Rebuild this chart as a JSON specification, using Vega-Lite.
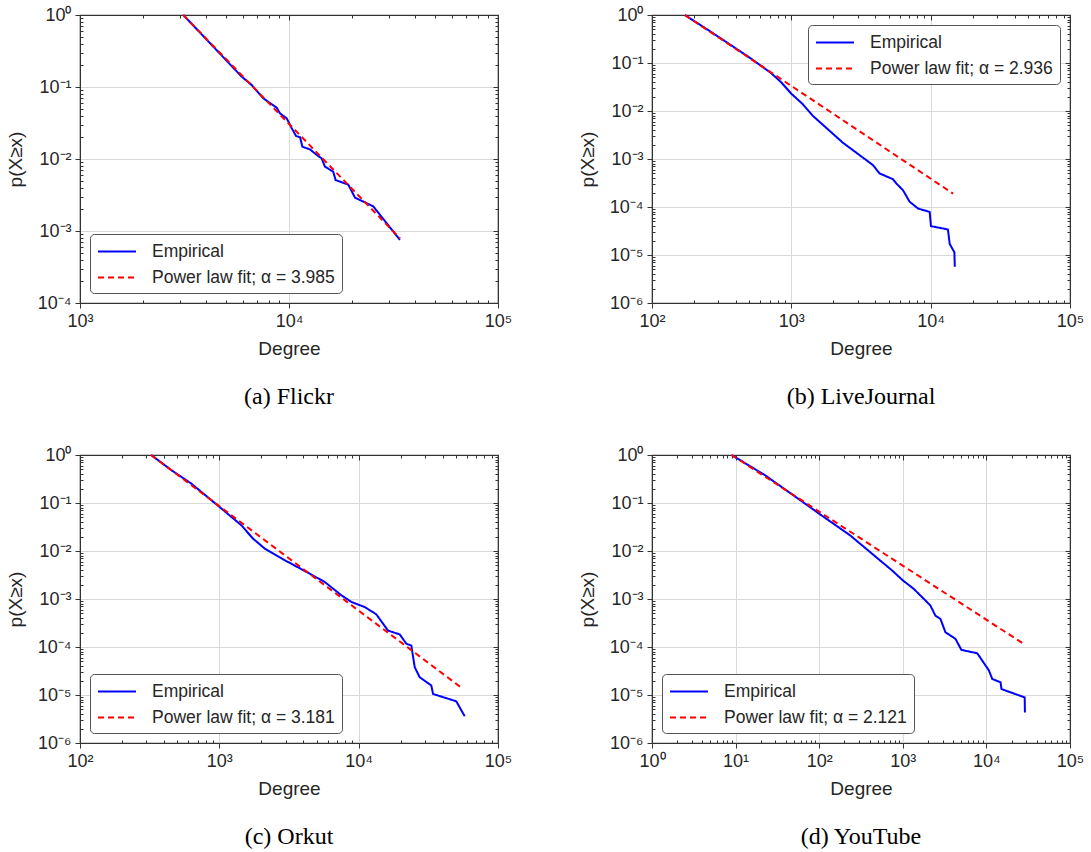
{
"$schema": "https://vega.github.io/schema/vega-lite/v6.json",
"background": "white",
"padding": {"left": 5, "top": 5, "right": 5, "bottom": 5},
"datasets": {"d": [
{"panel":"a","series":"Empirical","degree":3120,"p":1.0},
{"panel":"a","series":"Empirical","degree":4345,"p":0.363},
{"panel":"a","series":"Empirical","degree":5940,"p":0.139},
{"panel":"a","series":"Empirical","degree":6630,"p":0.1066},
{"panel":"a","series":"Empirical","degree":7530,"p":0.0697},
{"panel":"a","series":"Empirical","degree":8730,"p":0.0516},
{"panel":"a","series":"Empirical","degree":9060,"p":0.043},
{"panel":"a","series":"Empirical","degree":9750,"p":0.0367},
{"panel":"a","series":"Empirical","degree":10310,"p":0.0267},
{"panel":"a","series":"Empirical","degree":10800,"p":0.0209},
{"panel":"a","series":"Empirical","degree":11300,"p":0.020},
{"panel":"a","series":"Empirical","degree":11590,"p":0.0148},
{"panel":"a","series":"Empirical","degree":12600,"p":0.0136},
{"panel":"a","series":"Empirical","degree":13570,"p":0.0114},
{"panel":"a","series":"Empirical","degree":14330,"p":0.0102},
{"panel":"a","series":"Empirical","degree":14860,"p":0.00782},
{"panel":"a","series":"Empirical","degree":16280,"p":0.00667},
{"panel":"a","series":"Empirical","degree":16710,"p":0.0051},
{"panel":"a","series":"Empirical","degree":19220,"p":0.0044},
{"panel":"a","series":"Empirical","degree":20700,"p":0.0029},
{"panel":"a","series":"Empirical","degree":25300,"p":0.0022},
{"panel":"a","series":"Empirical","degree":33960,"p":0.00075},
{"panel":"a","series":"Power law fit; α = 3.985","degree":3120,"p":1.0},
{"panel":"a","series":"Power law fit; α = 3.985","degree":34000,"p":0.00079},
{"panel":"b","series":"Empirical","degree":172,"p":1.0},
{"panel":"b","series":"Empirical","degree":257,"p":0.472},
{"panel":"b","series":"Empirical","degree":358,"p":0.249},
{"panel":"b","series":"Empirical","degree":499,"p":0.131},
{"panel":"b","series":"Empirical","degree":714,"p":0.062},
{"panel":"b","series":"Empirical","degree":843,"p":0.040},
{"panel":"b","series":"Empirical","degree":1005,"p":0.0226},
{"panel":"b","series":"Empirical","degree":1205,"p":0.014},
{"panel":"b","series":"Empirical","degree":1422,"p":0.008},
{"panel":"b","series":"Empirical","degree":1875,"p":0.0039},
{"panel":"b","series":"Empirical","degree":2337,"p":0.0022},
{"panel":"b","series":"Empirical","degree":3080,"p":0.00121},
{"panel":"b","series":"Empirical","degree":3846,"p":0.00075},
{"panel":"b","series":"Empirical","degree":4300,"p":0.0005},
{"panel":"b","series":"Empirical","degree":5360,"p":0.00038},
{"panel":"b","series":"Empirical","degree":5665,"p":0.00031},
{"panel":"b","series":"Empirical","degree":6320,"p":0.000225},
{"panel":"b","series":"Empirical","degree":7060,"p":0.000129},
{"panel":"b","series":"Empirical","degree":8110,"p":0.000093},
{"panel":"b","series":"Empirical","degree":9840,"p":0.000079},
{"panel":"b","series":"Empirical","degree":10050,"p":0.00004},
{"panel":"b","series":"Empirical","degree":13300,"p":0.000034},
{"panel":"b","series":"Empirical","degree":13700,"p":0.000017},
{"panel":"b","series":"Empirical","degree":14800,"p":0.0000114},
{"panel":"b","series":"Empirical","degree":14900,"p":0.0000057},
{"panel":"b","series":"Power law fit; α = 2.936","degree":172,"p":1.0},
{"panel":"b","series":"Power law fit; α = 2.936","degree":14500,"p":0.00019},
{"panel":"c","series":"Empirical","degree":324,"p":1.0},
{"panel":"c","series":"Empirical","degree":451,"p":0.486},
{"panel":"c","series":"Empirical","degree":627,"p":0.256},
{"panel":"c","series":"Empirical","degree":1002,"p":0.083},
{"panel":"c","series":"Empirical","degree":1435,"p":0.0346},
{"panel":"c","series":"Empirical","degree":1742,"p":0.0182},
{"panel":"c","series":"Empirical","degree":2113,"p":0.0113},
{"panel":"c","series":"Empirical","degree":2942,"p":0.00645},
{"panel":"c","series":"Empirical","degree":4090,"p":0.00385},
{"panel":"c","series":"Empirical","degree":5700,"p":0.00227},
{"panel":"c","series":"Empirical","degree":7500,"p":0.0012},
{"panel":"c","series":"Empirical","degree":8850,"p":0.00087},
{"panel":"c","series":"Empirical","degree":11040,"p":0.00068},
{"panel":"c","series":"Empirical","degree":13380,"p":0.00048},
{"panel":"c","series":"Empirical","degree":14960,"p":0.000306},
{"panel":"c","series":"Empirical","degree":16230,"p":0.00022},
{"panel":"c","series":"Empirical","degree":19710,"p":0.000183},
{"panel":"c","series":"Empirical","degree":21990,"p":0.000117},
{"panel":"c","series":"Empirical","degree":23880,"p":0.000107},
{"panel":"c","series":"Empirical","degree":25250,"p":0.000038},
{"panel":"c","series":"Empirical","degree":27400,"p":0.0000235},
{"panel":"c","series":"Empirical","degree":33200,"p":0.0000158},
{"panel":"c","series":"Empirical","degree":34200,"p":0.0000105},
{"panel":"c","series":"Empirical","degree":50200,"p":0.0000074},
{"panel":"c","series":"Empirical","degree":57700,"p":0.0000036},
{"panel":"c","series":"Power law fit; α = 3.181","degree":324,"p":1.0},
{"panel":"c","series":"Power law fit; α = 3.181","degree":55000,"p":0.000014},
{"panel":"d","series":"Empirical","degree":8.96,"p":1.0},
{"panel":"d","series":"Empirical","degree":22.5,"p":0.379},
{"panel":"d","series":"Empirical","degree":67.8,"p":0.097},
{"panel":"d","series":"Empirical","degree":99.7,"p":0.06},
{"panel":"d","series":"Empirical","degree":235,"p":0.0211},
{"panel":"d","series":"Empirical","degree":428,"p":0.0088},
{"panel":"d","series":"Empirical","degree":743,"p":0.00394},
{"panel":"d","series":"Empirical","degree":1005,"p":0.00243},
{"panel":"d","series":"Empirical","degree":1350,"p":0.00163},
{"panel":"d","series":"Empirical","degree":1780,"p":0.00101},
{"panel":"d","series":"Empirical","degree":2140,"p":0.00073},
{"panel":"d","series":"Empirical","degree":2455,"p":0.00045},
{"panel":"d","series":"Empirical","degree":2820,"p":0.000385},
{"panel":"d","series":"Empirical","degree":3235,"p":0.000203},
{"panel":"d","series":"Empirical","degree":4265,"p":0.000148},
{"panel":"d","series":"Empirical","degree":5020,"p":0.000087},
{"panel":"d","series":"Empirical","degree":7770,"p":0.000074},
{"panel":"d","series":"Empirical","degree":8920,"p":0.000052},
{"panel":"d","series":"Empirical","degree":10720,"p":0.0000325},
{"panel":"d","series":"Empirical","degree":11740,"p":0.0000216},
{"panel":"d","series":"Empirical","degree":14770,"p":0.0000184},
{"panel":"d","series":"Empirical","degree":15150,"p":0.0000133},
{"panel":"d","series":"Empirical","degree":28700,"p":0.0000089},
{"panel":"d","series":"Empirical","degree":28900,"p":0.0000043},
{"panel":"d","series":"Power law fit; α = 2.121","degree":8.96,"p":1.0},
{"panel":"d","series":"Power law fit; α = 2.121","degree":28900,"p":0.000112}
]},
"data": {"name": "d"},
"columns": 2,
"spacing": {"row": 35, "column": 64},
"resolve": {
  "scale": {"x": "independent", "y": "independent", "color": "independent", "strokeDash": "independent"},
  "legend": {"color": "independent", "strokeDash": "independent"}
},
"concat": [
{
 "width": 418, "height": 288,
 "title": "(a)  Flickr",
 "transform": [{"filter": "datum.panel == 'a'"}],
 "layer": [
  {"mark": {"type": "line", "strokeWidth": 2},
   "encoding": {
    "x": {"field": "degree", "type": "quantitative", "scale": {"type": "log", "domain": [1000, 100000], "nice": false},
      "axis": {"orient": "bottom", "title": "Degree", "values": [1000,2000,3000,4000,5000,6000,7000,8000,9000,10000,20000,30000,40000,50000,60000,70000,80000,90000,100000],
        "labelExpr": "abs(log(datum.value)/LN10 - round(log(datum.value)/LN10)) < 0.001 ? '10' + replace(replace(replace(replace(replace(replace(replace(replace(''+round(log(datum.value)/LN10), '-', '⁻'), '0', '⁰'), '1', '¹'), '2', '²'), '3', '³'), '4', '⁴'), '5', '⁵'), '6', '⁶') : ''",
        "gridOpacity": {"condition": {"test": "abs(log(datum.value)/LN10 - round(log(datum.value)/LN10)) < 0.001", "value": 1}, "value": 0},
        "tickSize": {"condition": {"test": "abs(log(datum.value)/LN10 - round(log(datum.value)/LN10)) < 0.001", "value": 5}, "value": -3}}},
    "y": {"field": "p", "type": "quantitative", "scale": {"type": "log", "domain": [0.0001, 1], "nice": false},
      "axis": {"orient": "left", "title": "p(X≥x)", "values": [0.0001,0.0002,0.0003,0.0004,0.0005,0.0006,0.0007,0.0008,0.0009,0.001,0.002,0.003,0.004,0.005,0.006,0.007,0.008,0.009,0.01,0.02,0.03,0.04,0.05,0.06,0.07,0.08,0.09,0.1,0.2,0.3,0.4,0.5,0.6,0.7,0.8,0.9,1],
        "labelExpr": "abs(log(datum.value)/LN10 - round(log(datum.value)/LN10)) < 0.001 ? '10' + replace(replace(replace(replace(replace(replace(replace(replace(''+round(log(datum.value)/LN10), '-', '⁻'), '0', '⁰'), '1', '¹'), '2', '²'), '3', '³'), '4', '⁴'), '5', '⁵'), '6', '⁶') : ''",
        "gridOpacity": {"condition": {"test": "abs(log(datum.value)/LN10 - round(log(datum.value)/LN10)) < 0.001", "value": 1}, "value": 0},
        "tickSize": {"condition": {"test": "abs(log(datum.value)/LN10 - round(log(datum.value)/LN10)) < 0.001", "value": 5}, "value": -3}}},
    "color": {"field": "series", "type": "nominal", "scale": {"range": ["#0000ff", "#ff0000"]},
      "legend": {"title": null, "orient": "bottom-left", "symbolType": "M-1,0H3"}},
    "strokeDash": {"field": "series", "type": "nominal", "scale": {"range": [[1, 0], [6, 4]]},
      "legend": {"title": null, "orient": "bottom-left", "symbolType": "M-1,0H3"}}
   }},
  {"mark": {"type": "point", "opacity": 0},
   "encoding": {
    "x": {"field": "degree", "type": "quantitative", "scale": {"type": "log", "domain": [1000, 100000], "nice": false},
      "axis": {"orient": "top", "title": null, "labels": false, "grid": false, "values": [1000,2000,3000,4000,5000,6000,7000,8000,9000,10000,20000,30000,40000,50000,60000,70000,80000,90000,100000],
        "tickSize": {"condition": {"test": "abs(log(datum.value)/LN10 - round(log(datum.value)/LN10)) < 0.001", "value": -5}, "value": -3}}},
    "y": {"field": "p", "type": "quantitative", "scale": {"type": "log", "domain": [0.0001, 1], "nice": false},
      "axis": {"orient": "right", "title": null, "labels": false, "grid": false, "values": [0.0001,0.0002,0.0003,0.0004,0.0005,0.0006,0.0007,0.0008,0.0009,0.001,0.002,0.003,0.004,0.005,0.006,0.007,0.008,0.009,0.01,0.02,0.03,0.04,0.05,0.06,0.07,0.08,0.09,0.1,0.2,0.3,0.4,0.5,0.6,0.7,0.8,0.9,1],
        "tickSize": {"condition": {"test": "abs(log(datum.value)/LN10 - round(log(datum.value)/LN10)) < 0.001", "value": -5}, "value": -3}}}
   }}
 ],
 "resolve": {"axis": {"x": "independent", "y": "independent"}}
},
{
 "width": 418, "height": 288,
 "title": "(b)  LiveJournal",
 "transform": [{"filter": "datum.panel == 'b'"}],
 "layer": [
  {"mark": {"type": "line", "strokeWidth": 2},
   "encoding": {
    "x": {"field": "degree", "type": "quantitative", "scale": {"type": "log", "domain": [100, 100000], "nice": false},
      "axis": {"orient": "bottom", "title": "Degree", "values": [100,200,300,400,500,600,700,800,900,1000,2000,3000,4000,5000,6000,7000,8000,9000,10000,20000,30000,40000,50000,60000,70000,80000,90000,100000],
        "labelExpr": "abs(log(datum.value)/LN10 - round(log(datum.value)/LN10)) < 0.001 ? '10' + replace(replace(replace(replace(replace(replace(replace(replace(''+round(log(datum.value)/LN10), '-', '⁻'), '0', '⁰'), '1', '¹'), '2', '²'), '3', '³'), '4', '⁴'), '5', '⁵'), '6', '⁶') : ''",
        "gridOpacity": {"condition": {"test": "abs(log(datum.value)/LN10 - round(log(datum.value)/LN10)) < 0.001", "value": 1}, "value": 0},
        "tickSize": {"condition": {"test": "abs(log(datum.value)/LN10 - round(log(datum.value)/LN10)) < 0.001", "value": 5}, "value": -3}}},
    "y": {"field": "p", "type": "quantitative", "scale": {"type": "log", "domain": [0.000001, 1], "nice": false},
      "axis": {"orient": "left", "title": "p(X≥x)", "values": [0.000001,0.000002,0.000003,0.000004,0.000005,0.000006,0.000007,0.000008,0.000009,0.00001,0.00002,0.00003,0.00004,0.00005,0.00006,0.00007,0.00008,0.00009,0.0001,0.0002,0.0003,0.0004,0.0005,0.0006,0.0007,0.0008,0.0009,0.001,0.002,0.003,0.004,0.005,0.006,0.007,0.008,0.009,0.01,0.02,0.03,0.04,0.05,0.06,0.07,0.08,0.09,0.1,0.2,0.3,0.4,0.5,0.6,0.7,0.8,0.9,1],
        "labelExpr": "abs(log(datum.value)/LN10 - round(log(datum.value)/LN10)) < 0.001 ? '10' + replace(replace(replace(replace(replace(replace(replace(replace(''+round(log(datum.value)/LN10), '-', '⁻'), '0', '⁰'), '1', '¹'), '2', '²'), '3', '³'), '4', '⁴'), '5', '⁵'), '6', '⁶') : ''",
        "gridOpacity": {"condition": {"test": "abs(log(datum.value)/LN10 - round(log(datum.value)/LN10)) < 0.001", "value": 1}, "value": 0},
        "tickSize": {"condition": {"test": "abs(log(datum.value)/LN10 - round(log(datum.value)/LN10)) < 0.001", "value": 5}, "value": -3}}},
    "color": {"field": "series", "type": "nominal", "scale": {"range": ["#0000ff", "#ff0000"]},
      "legend": {"title": null, "orient": "top-right", "symbolType": "M-1,0H3"}},
    "strokeDash": {"field": "series", "type": "nominal", "scale": {"range": [[1, 0], [6, 4]]},
      "legend": {"title": null, "orient": "top-right", "symbolType": "M-1,0H3"}}
   }},
  {"mark": {"type": "point", "opacity": 0},
   "encoding": {
    "x": {"field": "degree", "type": "quantitative", "scale": {"type": "log", "domain": [100, 100000], "nice": false},
      "axis": {"orient": "top", "title": null, "labels": false, "grid": false, "values": [100,200,300,400,500,600,700,800,900,1000,2000,3000,4000,5000,6000,7000,8000,9000,10000,20000,30000,40000,50000,60000,70000,80000,90000,100000],
        "tickSize": {"condition": {"test": "abs(log(datum.value)/LN10 - round(log(datum.value)/LN10)) < 0.001", "value": -5}, "value": -3}}},
    "y": {"field": "p", "type": "quantitative", "scale": {"type": "log", "domain": [0.000001, 1], "nice": false},
      "axis": {"orient": "right", "title": null, "labels": false, "grid": false, "values": [0.000001,0.000002,0.000003,0.000004,0.000005,0.000006,0.000007,0.000008,0.000009,0.00001,0.00002,0.00003,0.00004,0.00005,0.00006,0.00007,0.00008,0.00009,0.0001,0.0002,0.0003,0.0004,0.0005,0.0006,0.0007,0.0008,0.0009,0.001,0.002,0.003,0.004,0.005,0.006,0.007,0.008,0.009,0.01,0.02,0.03,0.04,0.05,0.06,0.07,0.08,0.09,0.1,0.2,0.3,0.4,0.5,0.6,0.7,0.8,0.9,1],
        "tickSize": {"condition": {"test": "abs(log(datum.value)/LN10 - round(log(datum.value)/LN10)) < 0.001", "value": -5}, "value": -3}}}
   }}
 ],
 "resolve": {"axis": {"x": "independent", "y": "independent"}}
},
{
 "width": 418, "height": 288,
 "title": "(c)  Orkut",
 "transform": [{"filter": "datum.panel == 'c'"}],
 "layer": [
  {"mark": {"type": "line", "strokeWidth": 2},
   "encoding": {
    "x": {"field": "degree", "type": "quantitative", "scale": {"type": "log", "domain": [100, 100000], "nice": false},
      "axis": {"orient": "bottom", "title": "Degree", "values": [100,200,300,400,500,600,700,800,900,1000,2000,3000,4000,5000,6000,7000,8000,9000,10000,20000,30000,40000,50000,60000,70000,80000,90000,100000],
        "labelExpr": "abs(log(datum.value)/LN10 - round(log(datum.value)/LN10)) < 0.001 ? '10' + replace(replace(replace(replace(replace(replace(replace(replace(''+round(log(datum.value)/LN10), '-', '⁻'), '0', '⁰'), '1', '¹'), '2', '²'), '3', '³'), '4', '⁴'), '5', '⁵'), '6', '⁶') : ''",
        "gridOpacity": {"condition": {"test": "abs(log(datum.value)/LN10 - round(log(datum.value)/LN10)) < 0.001", "value": 1}, "value": 0},
        "tickSize": {"condition": {"test": "abs(log(datum.value)/LN10 - round(log(datum.value)/LN10)) < 0.001", "value": 5}, "value": -3}}},
    "y": {"field": "p", "type": "quantitative", "scale": {"type": "log", "domain": [0.000001, 1], "nice": false},
      "axis": {"orient": "left", "title": "p(X≥x)", "values": [0.000001,0.000002,0.000003,0.000004,0.000005,0.000006,0.000007,0.000008,0.000009,0.00001,0.00002,0.00003,0.00004,0.00005,0.00006,0.00007,0.00008,0.00009,0.0001,0.0002,0.0003,0.0004,0.0005,0.0006,0.0007,0.0008,0.0009,0.001,0.002,0.003,0.004,0.005,0.006,0.007,0.008,0.009,0.01,0.02,0.03,0.04,0.05,0.06,0.07,0.08,0.09,0.1,0.2,0.3,0.4,0.5,0.6,0.7,0.8,0.9,1],
        "labelExpr": "abs(log(datum.value)/LN10 - round(log(datum.value)/LN10)) < 0.001 ? '10' + replace(replace(replace(replace(replace(replace(replace(replace(''+round(log(datum.value)/LN10), '-', '⁻'), '0', '⁰'), '1', '¹'), '2', '²'), '3', '³'), '4', '⁴'), '5', '⁵'), '6', '⁶') : ''",
        "gridOpacity": {"condition": {"test": "abs(log(datum.value)/LN10 - round(log(datum.value)/LN10)) < 0.001", "value": 1}, "value": 0},
        "tickSize": {"condition": {"test": "abs(log(datum.value)/LN10 - round(log(datum.value)/LN10)) < 0.001", "value": 5}, "value": -3}}},
    "color": {"field": "series", "type": "nominal", "scale": {"range": ["#0000ff", "#ff0000"]},
      "legend": {"title": null, "orient": "bottom-left", "symbolType": "M-1,0H3"}},
    "strokeDash": {"field": "series", "type": "nominal", "scale": {"range": [[1, 0], [6, 4]]},
      "legend": {"title": null, "orient": "bottom-left", "symbolType": "M-1,0H3"}}
   }},
  {"mark": {"type": "point", "opacity": 0},
   "encoding": {
    "x": {"field": "degree", "type": "quantitative", "scale": {"type": "log", "domain": [100, 100000], "nice": false},
      "axis": {"orient": "top", "title": null, "labels": false, "grid": false, "values": [100,200,300,400,500,600,700,800,900,1000,2000,3000,4000,5000,6000,7000,8000,9000,10000,20000,30000,40000,50000,60000,70000,80000,90000,100000],
        "tickSize": {"condition": {"test": "abs(log(datum.value)/LN10 - round(log(datum.value)/LN10)) < 0.001", "value": -5}, "value": -3}}},
    "y": {"field": "p", "type": "quantitative", "scale": {"type": "log", "domain": [0.000001, 1], "nice": false},
      "axis": {"orient": "right", "title": null, "labels": false, "grid": false, "values": [0.000001,0.000002,0.000003,0.000004,0.000005,0.000006,0.000007,0.000008,0.000009,0.00001,0.00002,0.00003,0.00004,0.00005,0.00006,0.00007,0.00008,0.00009,0.0001,0.0002,0.0003,0.0004,0.0005,0.0006,0.0007,0.0008,0.0009,0.001,0.002,0.003,0.004,0.005,0.006,0.007,0.008,0.009,0.01,0.02,0.03,0.04,0.05,0.06,0.07,0.08,0.09,0.1,0.2,0.3,0.4,0.5,0.6,0.7,0.8,0.9,1],
        "tickSize": {"condition": {"test": "abs(log(datum.value)/LN10 - round(log(datum.value)/LN10)) < 0.001", "value": -5}, "value": -3}}}
   }}
 ],
 "resolve": {"axis": {"x": "independent", "y": "independent"}}
},
{
 "width": 418, "height": 288,
 "title": "(d)  YouTube",
 "transform": [{"filter": "datum.panel == 'd'"}],
 "layer": [
  {"mark": {"type": "line", "strokeWidth": 2},
   "encoding": {
    "x": {"field": "degree", "type": "quantitative", "scale": {"type": "log", "domain": [1, 100000], "nice": false},
      "axis": {"orient": "bottom", "title": "Degree", "values": [1,2,3,4,5,6,7,8,9,10,20,30,40,50,60,70,80,90,100,200,300,400,500,600,700,800,900,1000,2000,3000,4000,5000,6000,7000,8000,9000,10000,20000,30000,40000,50000,60000,70000,80000,90000,100000],
        "labelExpr": "abs(log(datum.value)/LN10 - round(log(datum.value)/LN10)) < 0.001 ? '10' + replace(replace(replace(replace(replace(replace(replace(replace(''+round(log(datum.value)/LN10), '-', '⁻'), '0', '⁰'), '1', '¹'), '2', '²'), '3', '³'), '4', '⁴'), '5', '⁵'), '6', '⁶') : ''",
        "gridOpacity": {"condition": {"test": "abs(log(datum.value)/LN10 - round(log(datum.value)/LN10)) < 0.001", "value": 1}, "value": 0},
        "tickSize": {"condition": {"test": "abs(log(datum.value)/LN10 - round(log(datum.value)/LN10)) < 0.001", "value": 5}, "value": -3}}},
    "y": {"field": "p", "type": "quantitative", "scale": {"type": "log", "domain": [0.000001, 1], "nice": false},
      "axis": {"orient": "left", "title": "p(X≥x)", "values": [0.000001,0.000002,0.000003,0.000004,0.000005,0.000006,0.000007,0.000008,0.000009,0.00001,0.00002,0.00003,0.00004,0.00005,0.00006,0.00007,0.00008,0.00009,0.0001,0.0002,0.0003,0.0004,0.0005,0.0006,0.0007,0.0008,0.0009,0.001,0.002,0.003,0.004,0.005,0.006,0.007,0.008,0.009,0.01,0.02,0.03,0.04,0.05,0.06,0.07,0.08,0.09,0.1,0.2,0.3,0.4,0.5,0.6,0.7,0.8,0.9,1],
        "labelExpr": "abs(log(datum.value)/LN10 - round(log(datum.value)/LN10)) < 0.001 ? '10' + replace(replace(replace(replace(replace(replace(replace(replace(''+round(log(datum.value)/LN10), '-', '⁻'), '0', '⁰'), '1', '¹'), '2', '²'), '3', '³'), '4', '⁴'), '5', '⁵'), '6', '⁶') : ''",
        "gridOpacity": {"condition": {"test": "abs(log(datum.value)/LN10 - round(log(datum.value)/LN10)) < 0.001", "value": 1}, "value": 0},
        "tickSize": {"condition": {"test": "abs(log(datum.value)/LN10 - round(log(datum.value)/LN10)) < 0.001", "value": 5}, "value": -3}}},
    "color": {"field": "series", "type": "nominal", "scale": {"range": ["#0000ff", "#ff0000"]},
      "legend": {"title": null, "orient": "bottom-left", "symbolType": "M-1,0H3"}},
    "strokeDash": {"field": "series", "type": "nominal", "scale": {"range": [[1, 0], [6, 4]]},
      "legend": {"title": null, "orient": "bottom-left", "symbolType": "M-1,0H3"}}
   }},
  {"mark": {"type": "point", "opacity": 0},
   "encoding": {
    "x": {"field": "degree", "type": "quantitative", "scale": {"type": "log", "domain": [1, 100000], "nice": false},
      "axis": {"orient": "top", "title": null, "labels": false, "grid": false, "values": [1,2,3,4,5,6,7,8,9,10,20,30,40,50,60,70,80,90,100,200,300,400,500,600,700,800,900,1000,2000,3000,4000,5000,6000,7000,8000,9000,10000,20000,30000,40000,50000,60000,70000,80000,90000,100000],
        "tickSize": {"condition": {"test": "abs(log(datum.value)/LN10 - round(log(datum.value)/LN10)) < 0.001", "value": -5}, "value": -3}}},
    "y": {"field": "p", "type": "quantitative", "scale": {"type": "log", "domain": [0.000001, 1], "nice": false},
      "axis": {"orient": "right", "title": null, "labels": false, "grid": false, "values": [0.000001,0.000002,0.000003,0.000004,0.000005,0.000006,0.000007,0.000008,0.000009,0.00001,0.00002,0.00003,0.00004,0.00005,0.00006,0.00007,0.00008,0.00009,0.0001,0.0002,0.0003,0.0004,0.0005,0.0006,0.0007,0.0008,0.0009,0.001,0.002,0.003,0.004,0.005,0.006,0.007,0.008,0.009,0.01,0.02,0.03,0.04,0.05,0.06,0.07,0.08,0.09,0.1,0.2,0.3,0.4,0.5,0.6,0.7,0.8,0.9,1],
        "tickSize": {"condition": {"test": "abs(log(datum.value)/LN10 - round(log(datum.value)/LN10)) < 0.001", "value": -5}, "value": -3}}}
   }}
 ],
 "resolve": {"axis": {"x": "independent", "y": "independent"}}
}
],
"config": {
  "font": "Liberation Sans",
  "view": {"stroke": "#333333", "strokeWidth": 1.2},
  "axis": {"labelFont": "Liberation Sans", "labelFontSize": 18, "labelColor": "#262626", "titleFont": "Liberation Sans", "titleFontSize": 19, "titleFontWeight": "normal", "titleColor": "#262626", "domainColor": "#333333", "tickColor": "#333333", "gridColor": "#d9d9d9", "gridWidth": 1, "labelFlush": false, "labelOverlap": false, "labelBound": false, "labelPadding": 4},
  "axisX": {"titlePadding": 9},
  "axisY": {"titlePadding": 12},
  "legend": {"labelFont": "Liberation Sans", "labelFontSize": 17.5, "labelColor": "#262626", "strokeColor": "#555555", "fillColor": "white", "cornerRadius": 4, "padding": 7, "symbolSize": 361, "symbolStrokeWidth": 2, "labelOffset": 34, "rowPadding": 7, "offset": 10, "labelLimit": 400},
  "title": {"font": "Liberation Serif", "fontSize": 24, "fontWeight": "normal", "orient": "bottom", "color": "#000000", "offset": 27}
}
}
